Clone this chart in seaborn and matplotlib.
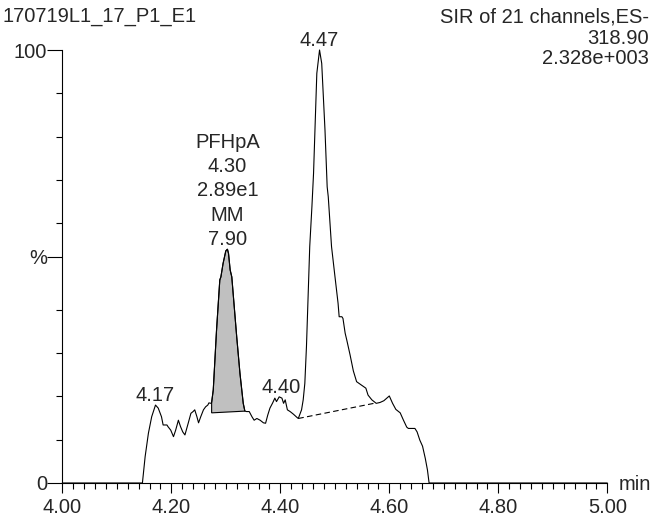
import matplotlib
matplotlib.use("Agg")
import matplotlib.pyplot as plt
import seaborn as sns
import pandas as pd

# ---------------- data ----------------
time_min = [4.000, 4.147, 4.152, 4.158, 4.164, 4.171, 4.176, 4.182, 4.185, 4.192,
            4.194, 4.199, 4.204, 4.208, 4.213, 4.217, 4.221, 4.225, 4.231, 4.236,
            4.240, 4.243, 4.247, 4.250, 4.254, 4.259, 4.263, 4.267, 4.269, 4.273,
            4.274, 4.277, 4.283, 4.289, 4.291, 4.295, 4.300, 4.303, 4.305, 4.308,
            4.311, 4.314, 4.320, 4.326, 4.332, 4.335, 4.338, 4.343, 4.348, 4.352,
            4.357, 4.363, 4.369, 4.373, 4.377, 4.381, 4.386, 4.390, 4.393, 4.398,
            4.403, 4.406, 4.409, 4.413, 4.418, 4.424, 4.431, 4.433, 4.439, 4.442,
            4.445, 4.448, 4.451, 4.454, 4.458, 4.461, 4.464, 4.467, 4.472, 4.476,
            4.482, 4.486, 4.488, 4.494, 4.500, 4.506, 4.508, 4.513, 4.515, 4.519,
            4.522, 4.528, 4.534, 4.540, 4.549, 4.557, 4.561, 4.568, 4.576, 4.583,
            4.590, 4.600, 4.606, 4.612, 4.620, 4.626, 4.632, 4.635, 4.641, 4.647,
            4.651, 4.656, 4.661, 4.666, 4.670, 4.673, 5.000]
intensity_pct = [0.0, 0.0, 6.1, 11.5, 15.3, 18.0, 17.3, 15.3, 13.4, 13.4,
                 13.0, 12.2, 10.7, 12.2, 14.5, 13.0, 11.8, 11.1, 13.8, 16.1,
                 16.5, 16.9, 15.3, 13.9, 15.3, 16.9, 17.6, 18.0, 18.5, 18.4,
                 18.6, 21.5, 35.3, 46.9, 47.6, 50.7, 53.6, 54.0, 53.0, 49.2,
                 47.6, 43.0, 33.8, 25.3, 18.4, 16.6, 16.5, 16.5, 15.3, 14.5,
                 14.9, 14.5, 13.9, 13.8, 15.7, 17.3, 18.5, 19.6, 18.8, 19.9,
                 19.6, 18.4, 19.2, 16.9, 16.5, 15.9, 15.1, 14.9, 16.9, 19.2,
                 23.0, 31.5, 43.0, 54.6, 63.8, 71.5, 83.1, 94.6, 100.0, 96.9,
                 81.5, 68.4, 66.1, 54.6, 48.0, 41.5, 38.4, 38.4, 38.0, 34.6,
                 33.0, 29.6, 25.9, 23.4, 22.6, 21.9, 20.3, 19.2, 18.4, 18.6,
                 19.0, 20.1, 18.4, 17.0, 16.2, 14.5, 12.9, 12.6, 12.6, 12.6,
                 11.8, 9.9, 8.5, 5.7, 3.0, 0.0, 0.0]

# integrated peak (PFHpA): start / end of integration and baseline heights
integ_start, integ_end = 4.274, 4.335
integ_base = [16.2, 16.6]

# dashed baseline under the main peak
dash_t = [4.433, 4.576]
dash_y = [14.9, 18.5]

# peak labels
label_t = [4.171, 4.401, 4.472]
label_y = [18.0, 19.9, 100.0]
label_txt = ["4.17", "4.40", "4.47"]
stack_t, stack_y = 4.303, 54.0
stack_txt = "PFHpA\n4.30\n2.89e1\nMM\n7.90"

xtick_vals = [4.0, 4.2, 4.4, 4.6, 4.8, 5.0]
xtick_lbls = ["4.00", "4.20", "4.40", "4.60", "4.80", "5.00"]
xminor_vals = [4.0 + 0.02 * k for k in range(51)]
ytick_vals = [0, 52.2, 100]
ytick_lbls = ["0", "%", "100"]
yminor_vals = [10, 20, 30, 40, 60, 70, 80, 90]

title_left = "170719L1_17_P1_E1"
title_right = ["SIR of 21 channels,ES-", "318.90", "2.328e+003"]

# ---------------- figure ----------------
sns.set_style("ticks")
plt.rcParams["font.family"] = ["Liberation Sans", "DejaVu Sans"]
FS = 14.5

W, H = 651, 520
fig = plt.figure(figsize=(W / 100, H / 100), dpi=100)
ax = fig.add_axes([62.3 / W, (H - 483) / H, 545 / W, 433 / H])

df = pd.DataFrame({"t": time_min, "i": intensity_pct})
sns.lineplot(data=df, x="t", y="i", estimator=None, sort=False, color="black",
             lw=0.8, ax=ax, clip_on=False)

# shaded integrated peak
sub = df[(df.t >= integ_start) & (df.t <= integ_end)]
poly_x = [integ_start] + list(sub.t) + [integ_end]
poly_y = [integ_base[0]] + list(sub.i) + [integ_base[1]]
ax.fill(poly_x, poly_y, facecolor="#c0c0c0", edgecolor="black", lw=0.8)

ax.plot(dash_t, dash_y, color="black", lw=0.8, dashes=(5, 3))

for t, y, s in zip(label_t, label_y, label_txt):
    ax.annotate(s, xy=(t, y), xytext=(0, 0), textcoords="offset points",
                ha="center", va="bottom", fontsize=FS)
ax.annotate(stack_txt, xy=(stack_t, stack_y), xytext=(0, 0),
            textcoords="offset points", ha="center", va="bottom",
            fontsize=FS, multialignment="center", linespacing=1.36)

ax.set_xlim(4.0, 5.0)
ax.set_ylim(0, 100)
ax.set_xticks(xtick_vals)
ax.set_xticklabels(xtick_lbls)
ax.set_xticks(xminor_vals, minor=True)
ax.set_yticks(ytick_vals)
ax.set_yticklabels(ytick_lbls)
ax.set_yticks(yminor_vals, minor=True)
ax.set_xlabel("")
ax.set_ylabel("")

for side in ["top", "right"]:
    ax.spines[side].set_visible(False)
for side in ["left", "bottom"]:
    ax.spines[side].set_linewidth(0.8)
    ax.spines[side].set_color("black")

ax.tick_params(axis="x", which="major", length=7, width=0.8, pad=4,
               labelsize=FS, direction="out", color="black")
ax.tick_params(axis="x", which="minor", length=4.3, width=0.8, direction="out",
               color="black")
ax.tick_params(axis="y", which="major", length=11, width=0.8, pad=0,
               labelsize=FS, direction="out", color="black")
ax.tick_params(axis="y", which="minor", length=4, width=0.8, direction="out",
               color="black")
ax.patch.set_alpha(0)

fig.text(2 / W, 1 - 17 / H, title_left, ha="left", va="center", fontsize=FS)
ys = [17, 38, 58]
for s, y in zip(title_right, ys):
    fig.text(649 / W, 1 - y / H, s, ha="right", va="center", fontsize=FS)
fig.text(619 / W, 1 - 485 / H, "min", ha="left", va="center", fontsize=FS)

fig.savefig("out.png", dpi=100, facecolor="white")
